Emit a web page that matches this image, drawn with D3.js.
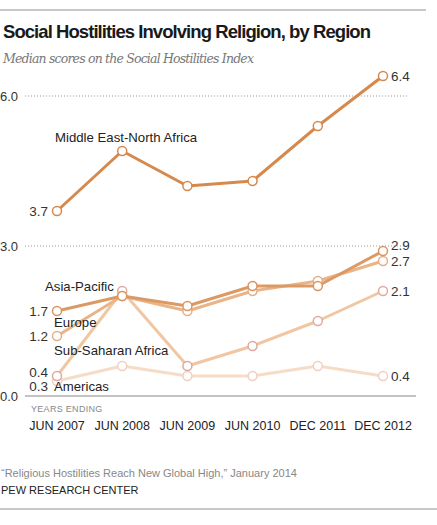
<!DOCTYPE html>
<html><head><meta charset="utf-8">
<script src="https://cdn.jsdelivr.net/npm/d3@7"></script>
<style>body{margin:0;background:#fff}svg{display:block}</style>
</head><body><svg id="c" width="437" height="525"></svg>
<script>
const periods = ["JUN 2007","JUN 2008","JUN 2009","JUN 2010","DEC 2011","DEC 2012"];
const mena = [3.7, 4.9, 4.2, 4.3, 5.4, 6.4];
const asiaPacific = [1.7, 2.0, 1.8, 2.2, 2.2, 2.9];
const europe = [1.2, 2.0, 1.7, 2.1, 2.3, 2.7];
const subSaharan = [0.4, 2.1, 0.6, 1.0, 1.5, 2.1];
const americas = [0.3, 0.6, 0.4, 0.4, 0.6, 0.4];
const yTicks = [0, 3, 6];
const seriesNames = ["Middle East-North Africa","Asia-Pacific","Europe","Sub-Saharan Africa","Americas"];

const series = [
  {name: seriesNames[4], values: americas, color: "#f6dcc6", circle: "#efcfc4"},
  {name: seriesNames[3], values: subSaharan, color: "#f1c6a2", circle: "#dfa9a0"},
  {name: seriesNames[2], values: europe, color: "#e9b488", circle: "#e6ae86"},
  {name: seriesNames[1], values: asiaPacific, color: "#db9964", circle: "#d99460"},
  {name: seriesNames[0], values: mena, color: "#d6894d", circle: "#d6894d"}
];

const svg = d3.select("#c");
const font = "'Liberation Sans', Arial, sans-serif";
const x = d3.scalePoint().domain(periods).range([57, 383]);
const y = d3.scaleLinear().domain([0, 6]).range([396, 96]);

svg.append("line").attr("x1",0).attr("x2",426).attr("y1",10).attr("y2",10).attr("stroke","#c8c8c8").attr("stroke-width",2);
svg.append("text").attr("x",3).attr("y",38).text("Social Hostilities Involving Religion, by Region")
  .attr("font-family","'Liberation Sans', Arial, sans-serif").attr("font-weight","bold").attr("font-size",18.5).attr("fill","#1a1a1a").attr("textLength",368);
svg.append("text").attr("x",3).attr("y",63).text("Median scores on the Social Hostilities Index")
  .attr("font-family","'DejaVu Serif', Georgia, serif").attr("font-style","italic").attr("font-size",12.5).attr("fill","#777").attr("textLength",251);

// grid
yTicks.forEach(t => {
  svg.append("line").attr("x1",25).attr("x2", t===0 ? 416 : 407).attr("y1",y(t)).attr("y2",y(t))
    .attr("stroke", t===0 ? "#888" : "#999").attr("stroke-width", t===0 ? 1.2 : 1)
    .attr("stroke-dasharray", t===0 ? null : "1,2");
  svg.append("text").attr("x",0).attr("y",y(t)+4.5).text(d3.format(".1f")(t))
    .attr("font-family",font).attr("font-size",13).attr("fill","#333");
});

const line = d3.line().x((d,i)=>x(periods[i])).y(d=>y(d));
series.forEach(s => {
  svg.append("path").attr("d", line(s.values)).attr("fill","none").attr("stroke", s.color).attr("stroke-width",3).attr("stroke-linejoin","round");
});
series.forEach(s => {
  svg.selectAll(null).data(s.values).enter().append("circle")
    .attr("cx",(d,i)=>x(periods[i])).attr("cy",d=>y(d)).attr("r",4.5)
    .attr("fill","#fff").attr("stroke", s.circle).attr("stroke-width",1.5);
});

// value labels
const lab = (xx, yy, t, anchor) => svg.append("text").attr("x",xx).attr("y",yy).text(t)
  .attr("font-family",font).attr("font-size",13.5).attr("fill","#333").attr("text-anchor",anchor);
lab(48, y(mena[0])+5, d3.format(".1f")(mena[0]), "end");
lab(48, y(asiaPacific[0])+5, d3.format(".1f")(asiaPacific[0]), "end");
lab(48, y(europe[0])+5, d3.format(".1f")(europe[0]), "end");
lab(48, y(subSaharan[0])+1, d3.format(".1f")(subSaharan[0]), "end");
lab(48, y(americas[0])+10, d3.format(".1f")(americas[0]), "end");
lab(391, y(mena[5])+5, d3.format(".1f")(mena[5]), "start");
lab(391, y(asiaPacific[5])-1, d3.format(".1f")(asiaPacific[5]), "start");
lab(391, y(europe[5])+5, d3.format(".1f")(europe[5]), "start");
lab(391, y(subSaharan[5])+5, d3.format(".1f")(subSaharan[5]), "start");
lab(391, y(americas[5])+5, d3.format(".1f")(americas[5]), "start");

// series labels
const nameLab = (xx, yy, t) => svg.append("text").attr("x",xx).attr("y",yy).text(t)
  .attr("font-family",font).attr("font-size",13.2).attr("fill","#222");
nameLab(55, 142, seriesNames[0]);
nameLab(45, 291, seriesNames[1]);
nameLab(54, 327, seriesNames[2]);
nameLab(54, 355, seriesNames[3]);
nameLab(54, 391, seriesNames[4]);

// x axis
svg.append("text").attr("x",31).attr("y",412).text("YEARS ENDING").attr("font-family",font).attr("font-size",9).attr("fill","#888").attr("letter-spacing",0.3);
svg.selectAll(null).data(periods).enter().append("text")
  .attr("x",d=>x(d)).attr("y",430).attr("text-anchor","middle").text(d=>d)
  .attr("font-family",font).attr("font-size",12.5).attr("fill","#222");

svg.append("text").attr("x",1).attr("y",477).text("\u201cReligious Hostilities Reach New Global High,\u201d January 2014")
  .attr("font-family",font).attr("font-size",11).attr("fill","#888");
svg.append("text").attr("x",1).attr("y",494).text("PEW RESEARCH CENTER")
  .attr("font-family",font).attr("font-size",11).attr("fill","#222");
svg.append("line").attr("x1",0).attr("x2",437).attr("y1",509).attr("y2",509).attr("stroke","#c8c8c8").attr("stroke-width",2);
</script></body></html>
